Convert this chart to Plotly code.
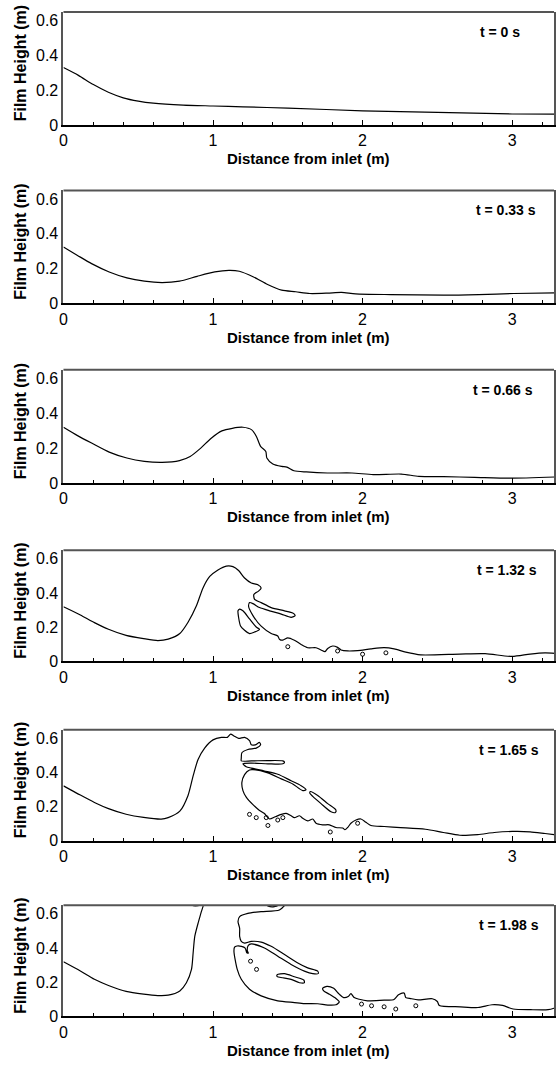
import plotly.graph_objects as go

# ---------------- data ----------------
time_labels = ["t = 0 s", "t = 0.33 s", "t = 0.66 s", "t = 1.32 s", "t = 1.65 s", "t = 1.98 s"]
x_tick_vals = [0, 1, 2, 3]
y_tick_vals = [0, 0.2, 0.4, 0.6]
y_tick_text = ["0", "0.2", "0.4", "0.6"]

# t = 0 s
p1_x = [0, 0.1, 0.2, 0.3, 0.4, 0.5, 0.6, 0.8, 1.0, 1.2, 1.5, 2.0, 2.5, 3.0, 3.28]
p1_y = [0.33, 0.285, 0.232, 0.188, 0.156, 0.137, 0.125, 0.114, 0.109, 0.104, 0.097, 0.081, 0.072, 0.063, 0.062]

# t = 0.33 s
p2_x = [0, 0.094, 0.188, 0.306, 0.424, 0.541, 0.659, 0.776, 0.894, 1.012, 1.106, 1.176, 1.271, 1.365,
        1.459, 1.553, 1.647, 1.765, 1.859, 1.953, 2.188, 2.541, 2.776, 3.012, 3.29]
p2_y = [0.324, 0.276, 0.229, 0.181, 0.147, 0.128, 0.12, 0.128, 0.156, 0.181, 0.19, 0.185, 0.152, 0.109,
        0.076, 0.067, 0.057, 0.059, 0.063, 0.055, 0.051, 0.048, 0.051, 0.057, 0.061]

# t = 0.66 s
p3_x = [0, 0.094, 0.188, 0.306, 0.424, 0.541, 0.659, 0.776, 0.847, 0.918, 0.988, 1.059, 1.129, 1.2,
        1.259, 1.29, 1.318, 1.353, 1.36, 1.4, 1.459, 1.494, 1.541, 1.624, 1.765, 1.929, 2.071, 2.259,
        2.376, 2.541, 2.749, 2.984, 3.29]
p3_y = [0.32, 0.272, 0.229, 0.177, 0.143, 0.124, 0.118, 0.128, 0.152, 0.2, 0.257, 0.299, 0.314, 0.32,
        0.305, 0.267, 0.21, 0.181, 0.143, 0.109, 0.095, 0.091, 0.07, 0.063, 0.057, 0.057, 0.048, 0.051,
        0.038, 0.036, 0.032, 0.027, 0.034]

# t = 1.32 s
p4_x = [0, 0.113, 0.207, 0.301, 0.419, 0.536, 0.631, 0.70, 0.778, 0.833, 0.889, 0.933, 0.978, 1.033,
        1.089, 1.133, 1.171, 1.211, 1.256, 1.30, 1.322, 1.304, 1.273, 1.278, 1.322, 1.389, 1.478, 1.533,
        1.549, 1.522, 1.456, 1.378, 1.311, 1.267, 1.244, 1.238, 1.267, 1.322, 1.389, 1.433, 1.444, 1.467,
        1.50, 1.544, 1.589, 1.633, 1.689, 1.722, 1.749, 1.767, 1.80, 1.833, 1.856, 1.90, 1.967, 2.056,
        2.144, 2.211, 2.289, 2.389, 2.65, 2.82, 3.0, 3.12, 3.22, 3.29]
p4_y = [0.32, 0.272, 0.227, 0.188, 0.152, 0.133, 0.122, 0.130, 0.163, 0.229, 0.325, 0.430, 0.497, 0.535,
        0.558, 0.555, 0.532, 0.488, 0.459, 0.449, 0.430, 0.411, 0.392, 0.363, 0.344, 0.315, 0.296, 0.283,
        0.268, 0.258, 0.277, 0.296, 0.315, 0.338, 0.344, 0.321, 0.268, 0.206, 0.163, 0.149, 0.130, 0.124,
        0.138, 0.124, 0.099, 0.080, 0.080, 0.067, 0.057, 0.076, 0.090, 0.082, 0.067, 0.061, 0.063, 0.073,
        0.080, 0.073, 0.054, 0.038, 0.043, 0.045, 0.029, 0.043, 0.050, 0.047]
p4_blob_x = [1.178, 1.20, 1.244, 1.289, 1.311, 1.278, 1.244, 1.211, 1.184, 1.171, 1.167, 1.178]
p4_blob_y = [0.306, 0.296, 0.249, 0.201, 0.187, 0.172, 0.163, 0.182, 0.207, 0.258, 0.296, 0.306]
p4_drop_x = [1.50, 1.833, 2.0, 2.156]
p4_drop_y = [0.086, 0.061, 0.042, 0.05]

# t = 1.65 s
p5_x = [0, 0.113, 0.207, 0.301, 0.419, 0.536, 0.654, 0.70, 0.778, 0.833, 0.867, 0.90, 0.944, 1.0, 1.056,
        1.096, 1.118, 1.14, 1.171, 1.211, 1.244, 1.256, 1.282, 1.311, 1.318, 1.289, 1.233, 1.193, 1.189,
        1.189, 1.256, 1.367, 1.467, 1.478, 1.467, 1.367, 1.256, 1.20,
        1.222, 1.256, 1.344, 1.433, 1.522, 1.589, 1.622, 1.60, 1.533, 1.456, 1.367, 1.267,
        1.244, 1.211, 1.193, 1.20, 1.222, 1.267, 1.311, 1.344, 1.356, 1.378, 1.416, 1.456, 1.489, 1.522,
        1.544, 1.578, 1.60, 1.633, 1.667, 1.689, 1.733, 1.778, 1.822, 1.867, 1.882, 1.90, 1.922, 1.956,
        1.989, 2.022, 2.056, 2.144, 2.254, 2.42, 2.54, 2.65, 2.77, 2.88, 3.0, 3.12, 3.22, 3.28]
p5_y = [0.322, 0.268, 0.225, 0.189, 0.156, 0.137, 0.127, 0.136, 0.174, 0.266, 0.380, 0.476, 0.543, 0.591,
        0.606, 0.606, 0.625, 0.614, 0.60, 0.606, 0.587, 0.562, 0.562, 0.576, 0.562, 0.543, 0.535, 0.516,
        0.484, 0.468, 0.468, 0.470, 0.468, 0.46, 0.451, 0.451, 0.455, 0.451,
        0.434, 0.426, 0.409, 0.390, 0.352, 0.323, 0.30, 0.294, 0.333, 0.363, 0.398, 0.417,
        0.415, 0.388, 0.342, 0.294, 0.256, 0.212, 0.178, 0.16, 0.147, 0.128, 0.141, 0.155, 0.161, 0.147,
        0.136, 0.147, 0.132, 0.117, 0.128, 0.103, 0.094, 0.094, 0.078, 0.075, 0.065, 0.078, 0.103, 0.122,
        0.128, 0.109, 0.090, 0.084, 0.078, 0.068, 0.049, 0.033, 0.037, 0.049, 0.055, 0.053, 0.043, 0.037]
p5_blob_x = [1.651, 1.70, 1.767, 1.822, 1.818, 1.789, 1.722, 1.667, 1.647, 1.651]
p5_blob_y = [0.289, 0.266, 0.218, 0.180, 0.166, 0.170, 0.218, 0.26, 0.279, 0.289]
p5_drop_x = [1.244, 1.289, 1.356, 1.367, 1.433, 1.467, 1.784, 1.967]
p5_drop_y = [0.155, 0.136, 0.136, 0.090, 0.122, 0.136, 0.052, 0.103]

# t = 1.98 s
p6a_x = [0, 0.113, 0.207, 0.301, 0.419, 0.536, 0.631, 0.70, 0.778, 0.822, 0.856, 0.867, 0.878, 0.90,
         0.922, 0.935, 0.90, 0.86, 0.85]
p6a_y = [0.32, 0.266, 0.217, 0.181, 0.146, 0.13, 0.122, 0.124, 0.149, 0.197, 0.275, 0.371, 0.468, 0.545,
         0.613, 0.655, 0.648, 0.65, 0.66]
p6b_x = [1.49, 1.444, 1.322, 1.233, 1.178, 1.167, 1.178, 1.178, 1.189, 1.211, 1.256, 1.322, 1.389, 1.478,
         1.567, 1.633, 1.70, 1.704, 1.667, 1.611, 1.522, 1.433, 1.344, 1.256, 1.236, 1.229, 1.236, 1.226,
         1.215, 1.19, 1.16, 1.144, 1.14, 1.162, 1.189, 1.244, 1.322, 1.433, 1.544, 1.611, 1.70, 1.767,
         1.822, 1.844, 1.822, 1.778, 1.74, 1.733, 1.762, 1.807, 1.844, 1.873, 1.904, 1.922, 1.944, 1.978,
         2.033, 2.144, 2.207, 2.24, 2.278, 2.289, 2.322, 2.372, 2.466, 2.50, 2.513, 2.654, 2.772, 2.866,
         2.936, 3.007, 3.125, 3.24, 3.285]
p6b_y = [0.66, 0.623, 0.613, 0.603, 0.584, 0.555, 0.516, 0.468, 0.439, 0.429, 0.439, 0.435, 0.41, 0.362,
         0.313, 0.284, 0.265, 0.251, 0.25, 0.265, 0.304, 0.352, 0.40, 0.424, 0.415, 0.385, 0.37, 0.372,
         0.40, 0.41, 0.412, 0.405, 0.38, 0.275, 0.217, 0.159, 0.12, 0.091, 0.081, 0.075, 0.074, 0.066,
         0.068, 0.085, 0.105, 0.13, 0.149, 0.164, 0.176, 0.164, 0.13, 0.11, 0.116, 0.133, 0.11, 0.10,
         0.091, 0.095, 0.097, 0.126, 0.136, 0.11, 0.104, 0.097, 0.103, 0.087, 0.064, 0.056, 0.052, 0.068,
         0.064, 0.043, 0.039, 0.039, 0.049]
p6_cap_x = [1.35, 1.37, 1.41, 1.44, 1.45]
p6_cap_y = [0.66, 0.645, 0.642, 0.652, 0.66]
p6_blob_x = [1.429, 1.478, 1.544, 1.607, 1.611, 1.578, 1.522, 1.467, 1.429, 1.429]
p6_blob_y = [0.244, 0.25, 0.232, 0.213, 0.197, 0.197, 0.217, 0.226, 0.232, 0.244]
p6_drop_x = [1.251, 1.291, 1.993, 2.06, 2.144, 2.222, 2.356]
p6_drop_y = [0.323, 0.275, 0.072, 0.062, 0.056, 0.043, 0.062]

panels = [
    {"lines": [(p1_x, p1_y)], "drops": ([], [])},
    {"lines": [(p2_x, p2_y)], "drops": ([], [])},
    {"lines": [(p3_x, p3_y)], "drops": ([], [])},
    {"lines": [(p4_x, p4_y), (p4_blob_x, p4_blob_y)], "drops": (p4_drop_x, p4_drop_y)},
    {"lines": [(p5_x, p5_y), (p5_blob_x, p5_blob_y)], "drops": (p5_drop_x, p5_drop_y)},
    {"lines": [(p6a_x, p6a_y), (p6b_x, p6b_y), (p6_cap_x, p6_cap_y), (p6_blob_x, p6_blob_y)],
     "drops": (p6_drop_x, p6_drop_y)},
]

# ---------------- layout / style ----------------
W, H = 556, 1070
FONT = "Liberation Sans, Arial, Helvetica, sans-serif"
panel_top = [12, 192, 373, 555, 736, 913]
panel_bot = [126, 306, 487, 667, 848, 1025]
label_cx = [501, 507, 504, 508, 510, 510]
x_left_px, x_right_px = 60, 555
x_range = [0, 3.28]
y_range = [0, 0.65]

fig = go.Figure()
layout = dict(
    width=W, height=H, margin=dict(l=0, r=0, t=0, b=0),
    paper_bgcolor="white", plot_bgcolor="white", showlegend=False,
    font=dict(family=FONT, color="black"),
)
annotations = []
shapes = []

for i, p in enumerate(panels):
    n = "" if i == 0 else str(i + 1)
    xa, ya = "x" + n, "y" + n
    layout["xaxis" + n] = dict(
        domain=[x_left_px / W, x_right_px / W], range=x_range, anchor=ya,
        showline=True, linecolor="black", linewidth=2,
        ticks="inside", ticklen=5, tickwidth=1, tickcolor="black",
        tickvals=x_tick_vals, ticktext=[str(v) for v in x_tick_vals],
        minor=dict(dtick=0.2, tick0=0, ticks="inside", ticklen=3, tickwidth=1, tickcolor="black"),
        showgrid=False, zeroline=False,
        tickfont=dict(size=16, family=FONT, color="black"),
    )
    layout["yaxis" + n] = dict(
        domain=[1 - panel_bot[i] / H, 1 - panel_top[i] / H], range=y_range, anchor=xa,
        showline=True, linecolor="#555555", linewidth=2, mirror=True,
        ticks="", tickvals=y_tick_vals, ticktext=y_tick_text,
        showgrid=False, zeroline=False,
        tickfont=dict(size=16, family=FONT, color="black"),
    )
    shapes.append(dict(type="line", xref=xa + " domain", yref=ya + " domain",
                       x0=0, x1=1, y0=1, y1=1, line=dict(color="#555555", width=2)))

    for (lx, ly) in p["lines"]:
        fig.add_trace(go.Scatter(x=lx, y=ly, mode="lines", xaxis=xa, yaxis=ya,
                                 line=dict(color="black", width=1.2, shape="spline", smoothing=0.7),
                                 hoverinfo="skip"))
    dx, dy = p["drops"]
    if dx:
        fig.add_trace(go.Scatter(x=dx, y=dy, mode="markers", xaxis=xa, yaxis=ya,
                                 marker=dict(symbol="circle-open", size=4, color="black",
                                             line=dict(width=1, color="black")),
                                 hoverinfo="skip"))

    mid = (panel_top[i] + panel_bot[i]) / 2
    annotations.append(dict(text="<b>Film Height (m)</b>", textangle=-90, xref="paper", yref="paper",
                            x=17 / W, y=1 - (mid - 5) / H, showarrow=False,
                            xanchor="center", yanchor="middle",
                            font=dict(size=16, family=FONT, color="black")))
    annotations.append(dict(text="<b>Distance from inlet (m)</b>", xref="paper", yref="paper",
                            x=(x_left_px + x_right_px) / 2 / W, y=1 - (panel_bot[i] + 34) / H,
                            showarrow=False, xanchor="center", yanchor="middle",
                            font=dict(size=15, family=FONT, color="black")))
    annotations.append(dict(text="<b>" + time_labels[i] + "</b>", xref="paper", yref="paper",
                            x=label_cx[i] / W, y=1 - (panel_top[i] + 20) / H,
                            showarrow=False, xanchor="center", yanchor="middle",
                            font=dict(size=14, family=FONT, color="black")))

layout["annotations"] = annotations
layout["shapes"] = shapes
fig.update_layout(**layout)
fig.write_html("out.html", config={"displayModeBar": False},
               post_script="document.body.style.margin='0px';document.body.style.overflow='hidden';")
